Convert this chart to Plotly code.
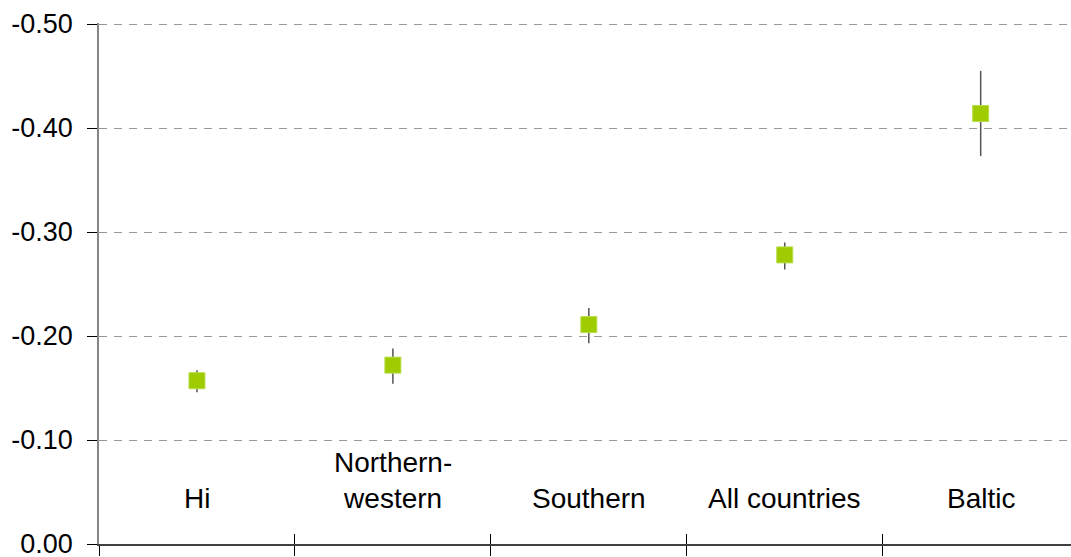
import plotly.graph_objects as go

categories = ["Hi", "Northern-western", "Southern", "All countries", "Baltic"]
labels = ["Hi", "Northern-<br>western", "Southern", "All countries", "Baltic"]
values = [-0.157, -0.172, -0.211, -0.278, -0.414]
ci_low = [-0.167, -0.188, -0.227, -0.290, -0.455]
ci_high = [-0.146, -0.154, -0.193, -0.264, -0.373]
y_ticks = [0.0, -0.1, -0.2, -0.3, -0.4, -0.5]
y_tick_labels = ["0.00", "-0.10", "-0.20", "-0.30", "-0.40", "-0.50"]

err_plus = [h - v for h, v in zip(ci_high, values)]
err_minus = [v - l for v, l in zip(values, ci_low)]

FONT = "Liberation Sans, Arial, sans-serif"
FS = 28

fig = go.Figure()
fig.add_trace(go.Scatter(
    x=categories, y=values, mode="markers",
    marker=dict(symbol="square", size=16, color="#9ECC00",
                line=dict(color="#B8DC4A", width=1)),
    error_y=dict(type="data", array=err_plus, arrayminus=err_minus,
                 color="#555555", thickness=1.5, width=0),
    showlegend=False, hoverinfo="skip", cliponaxis=False,
))
# helper trace for the overlay axis that draws the upper half of the crossing ticks
fig.add_trace(go.Scatter(
    x=categories, y=values, xaxis="x2", mode="markers",
    marker=dict(opacity=0), showlegend=False, hoverinfo="skip",
))

for lab, cat in zip(labels, categories):
    fig.add_annotation(x=cat, y=-0.027, xref="x", yref="y", text=lab,
                       showarrow=False, yanchor="bottom", xanchor="center",
                       font=dict(family=FONT, size=FS, color="#000000"))

xr = [-0.5, 4.461]
fig.update_layout(
    width=1071, height=557,
    margin=dict(l=99, r=0, t=23, b=13, autoexpand=False),
    paper_bgcolor="white", plot_bgcolor="white",
    font=dict(family=FONT, size=FS, color="#000000"),
    xaxis=dict(type="category", categoryorder="array", categoryarray=categories,
               range=xr, tickson="boundaries", ticks="outside", ticklen=10,
               tickwidth=1, tickcolor="#000000", showticklabels=False,
               showgrid=False, zeroline=False, showline=True, automargin=False,
               linecolor="#404040", linewidth=1.5),
    xaxis2=dict(type="category", categoryorder="array", categoryarray=categories,
                overlaying="x", range=xr, tickson="boundaries", ticks="inside",
                ticklen=10, tickwidth=1, tickcolor="#000000", side="bottom",
                automargin=False,
                showticklabels=False, showgrid=False, zeroline=False, showline=False),
    yaxis=dict(range=[0, -0.501], tickvals=y_ticks, ticktext=y_tick_labels,
               ticks="outside", ticklen=10, tickwidth=1, tickcolor="#000000",
               showgrid=True, gridcolor="#999999", gridwidth=1, griddash="8px,7px",
               zeroline=False, showline=True, linecolor="#858585", linewidth=1.5,
               ticklabelstandoff=9, automargin=False, ticklabeloverflow="allow",
               tickfont=dict(family=FONT, size=27, color="#000000")),
)

fig.write_html("out.html", config={"displayModeBar": False},
               post_script="document.body.style.margin='0';")
